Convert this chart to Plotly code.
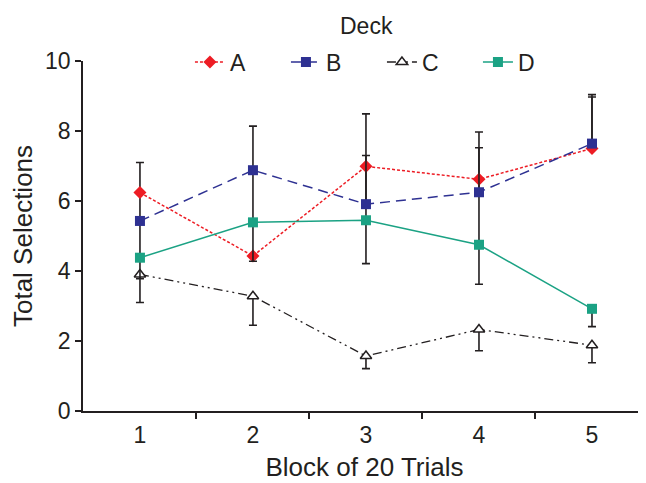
import plotly.graph_objects as go

blocks = [1, 2, 3, 4, 5]
tick_labels = ["1", "2", "3", "4", "5"]
y_ticks = [0, 2, 4, 6, 8, 10]

deck_a = [6.24, 4.43, 6.99, 6.62, 7.50]
deck_b = [5.43, 6.88, 5.91, 6.25, 7.64]
deck_c = [3.90, 3.28, 1.57, 2.33, 1.88]
deck_d = [4.38, 5.39, 5.45, 4.75, 2.92]

a_plus = [0.86, 0.0, 1.50, 1.35, 1.47]
a_minus = [0.81, 0.0, 1.08, 0.37, 0.0]
b_plus = [0.0, 1.26, 1.39, 1.27, 1.40]
b_minus = [1.05, 1.49, 0.46, 1.50, 0.0]
c_plus = [0.0, 0.0, 0.0, 0.0, 0.0]
c_minus = [0.80, 0.83, 0.36, 0.61, 0.50]
d_plus = [0.0, 0.0, 0.0, 0.0, 0.0]
d_minus = [0.60, 1.11, 1.24, 1.13, 0.51]

FONT = "Liberation Sans, Arial, sans-serif"
TXT = "#231f20"
RED = "#ed1c24"
BLUE = "#2e3192"
TEAL = "#1ba284"


def err(plus, minus):
    return dict(type="data", symmetric=False, array=plus, arrayminus=minus,
                color="#231f20", thickness=1.6, width=4)


fig = go.Figure()
fig.add_trace(go.Scatter(
    x=blocks, y=deck_a, name="A", mode="lines+markers",
    line=dict(color=RED, width=1.5, dash="3px,2px"),
    marker=dict(symbol="diamond", size=10, color=RED),
    error_y=err(a_plus, a_minus)))
fig.add_trace(go.Scatter(
    x=blocks, y=deck_b, name="B", mode="lines+markers",
    line=dict(color=BLUE, width=1.5, dash="10px,6px"),
    marker=dict(symbol="square", size=10, color=BLUE),
    error_y=err(b_plus, b_minus)))
fig.add_trace(go.Scatter(
    x=blocks, y=deck_c, name="C", mode="lines+markers",
    line=dict(color="#231f20", width=1.3, dash="9px,4px,2px,4px,2px,4px"),
    marker=dict(symbol="triangle-up", size=10, color="white",
                line=dict(color="#231f20", width=1.5)),
    error_y=err(c_plus, c_minus)))
fig.add_trace(go.Scatter(
    x=blocks, y=deck_d, name="D", mode="lines+markers",
    line=dict(color=TEAL, width=1.5),
    marker=dict(symbol="square", size=10, color=TEAL),
    error_y=err(d_plus, d_minus)))

fig.update_layout(
    width=638, height=475,
    margin=dict(l=75, r=0, t=53, b=72),
    paper_bgcolor="white", plot_bgcolor="white",
    font=dict(family=FONT, color=TXT, size=22),
    showlegend=True,
    legend=dict(
        orientation="h", x=0.531, xanchor="center", y=0.997, yanchor="middle",
        font=dict(size=23), bgcolor="rgba(0,0,0,0)", entrywidth=51,
        itemwidth=30),
    annotations=[dict(text="Deck", x=0.503, y=1.10, xref="paper",
                      yref="paper", xanchor="center", yanchor="middle",
                      showarrow=False, font=dict(size=23))],
    xaxis=dict(
        range=[0.496, 5.478], tickvals=blocks, ticktext=tick_labels,
        ticks="", showline=True, linecolor="#231f20", linewidth=1.5,
        showgrid=False, zeroline=False, tickfont=dict(size=23),
        ticklabelstandoff=3,
        minor=dict(tickvals=[1.5, 2.5, 3.5, 4.5], ticks="outside",
                   ticklen=6, tickwidth=1.5, tickcolor="#231f20"),
        title=dict(text="Block of 20 Trials", font=dict(size=26), standoff=10),
        automargin=False, fixedrange=True),
    yaxis=dict(
        range=[0, 10], tickvals=y_ticks, ticks="outside", ticklen=6,
        tickwidth=1.5, tickcolor="#231f20", showline=True,
        linecolor="#231f20", linewidth=1.5, showgrid=False, zeroline=False,
        tickfont=dict(size=23),
        title=dict(text="Total Selections", font=dict(size=26), standoff=8),
        automargin=False),
)

fig.write_html("out.html")
